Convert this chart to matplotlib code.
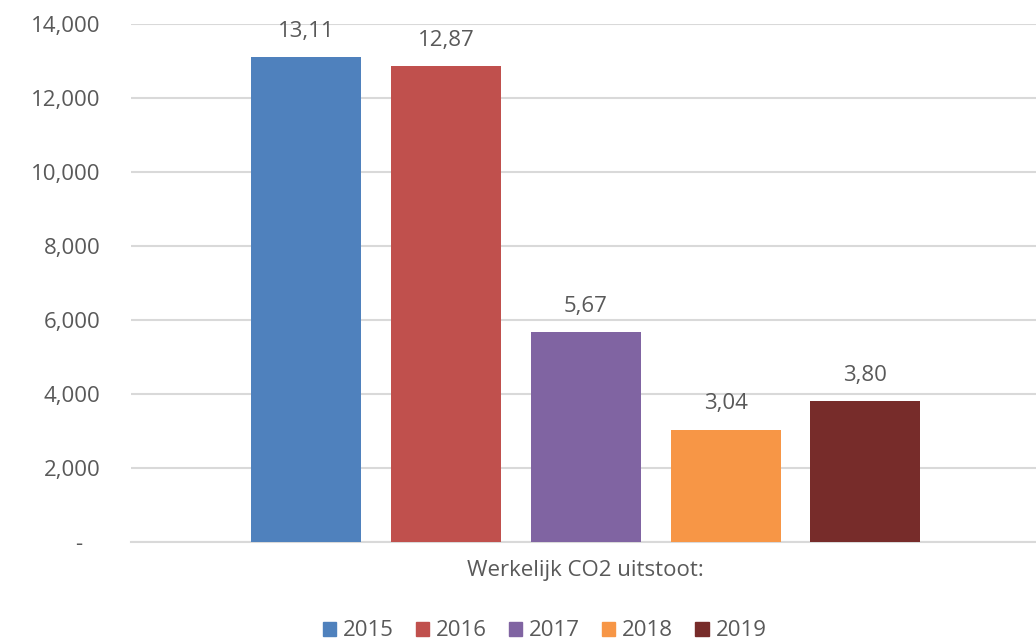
import matplotlib.pyplot as plt
from matplotlib.ticker import FuncFormatter
from matplotlib.patches import Patch

# CO2 uitstoot per jaar (waarden zoals in de labels)
years = ['2015', '2016', '2017', '2018', '2019']
values = [13.11, 12.87, 5.67, 3.04, 3.80]
colors = ['#4F81BD', '#C0504D', '#8064A2', '#F79646', '#772C2A']
category = 'Werkelijk CO2 uitstoot:'

plt.rcParams['font.family'] = ['Open Sans', 'DejaVu Sans']
txt = '#595959'
fs = 16

fig = plt.figure(figsize=(10.36, 6.41), dpi=100)
ax = fig.add_axes([131/1036, 1 - 542/641, (1036 - 131)/1036, 518/641])

xs = list(range(len(years)))
bars = ax.bar(xs, values, width=0.786, color=colors, zorder=3)

for x, v in zip(xs, values):
    ax.annotate(('%.2f' % v).replace('.', ','), (x, v), xytext=(0, 11),
                textcoords='offset points', ha='center', va='bottom',
                fontsize=fs, color=txt)

def yfmt(v, pos):
    if abs(v) < 1e-9:
        return '-   '
    return ('%.3f' % v).replace('.', ',')

ax.set_ylim(0, 14)
ax.set_yticks(range(0, 15, 2))
ax.yaxis.set_major_formatter(FuncFormatter(yfmt))
ax.set_xlim(-1.254, 5.221)
ax.set_xticks([2])
ax.set_xticklabels([category])

ax.tick_params(axis='y', length=0, pad=22, labelsize=fs, labelcolor=txt)
ax.tick_params(axis='x', length=0, pad=13, labelsize=fs, labelcolor=txt)
ax.grid(axis='y', color='#D9D9D9', linewidth=1.5, zorder=0)
for s in ['top', 'right', 'left']:
    ax.spines[s].set_visible(False)
ax.spines['bottom'].set_color('#D9D9D9')
ax.spines['bottom'].set_linewidth(1.5)

handles = [Patch(color=c, label=y) for c, y in zip(colors, years)]
fig.legend(handles=handles, loc='center', bbox_to_anchor=(544.5/1036, 1 - 631/641),
           ncol=5, frameon=False, fontsize=fs, labelcolor=txt,
           handlelength=0.6, handleheight=0.6, handletextpad=0.3,
           columnspacing=1.0)

fig.savefig('out.png', dpi=100)
